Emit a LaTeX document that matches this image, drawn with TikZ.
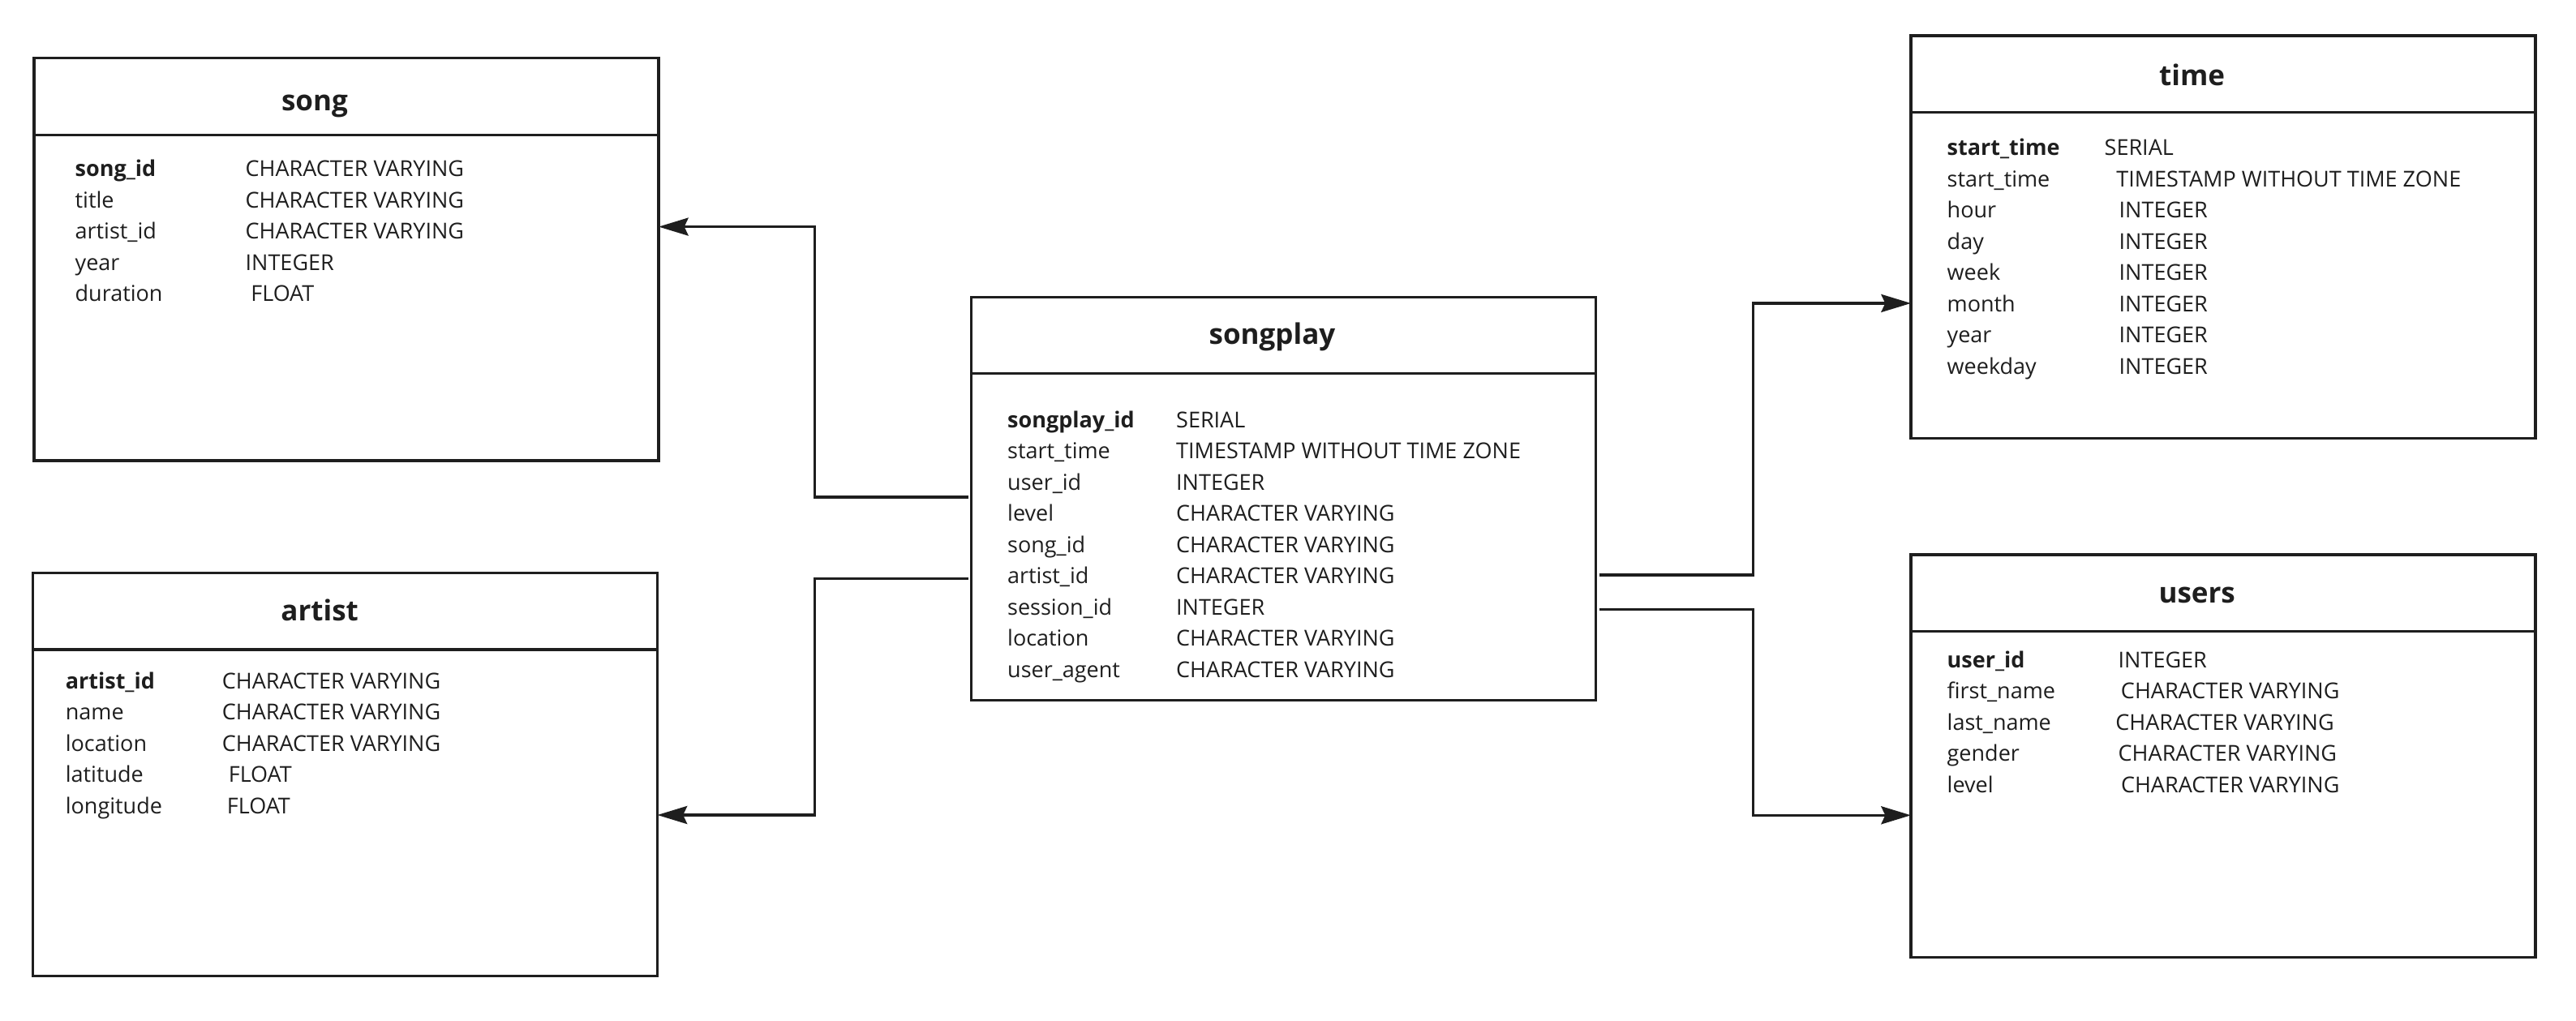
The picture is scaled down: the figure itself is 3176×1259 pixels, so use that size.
\documentclass[tikz,border=0pt]{standalone}
\usepackage{fontspec}
\setmainfont{Open Sans}
\usetikzlibrary{arrows.meta}
\definecolor{ink}{HTML}{1E1E1E}
\tikzstyle{table} = [rectangle, draw=ink, line width=1pt, outer sep=0pt,
    minimum width=231pt, minimum height=149pt]
\tikzstyle{title} = [anchor=base, inner sep=0pt, text=ink,
    font=\fontsize{10.5}{12}\selectfont\bfseries]
\tikzstyle{rows} = [anchor=base west, inner sep=0pt, text=ink,
    font=\fontsize{8.1}{11.55}\selectfont]
\tikzstyle{rule} = [draw=ink, line width=1.1pt]
\tikzstyle{line} = [draw=ink, line width=1pt, shorten <=1.2pt,
    -{Stealth[length=11pt, width=6.6pt, inset=1.5pt]}]

\begin{document}
\begin{tikzpicture}[x=0.3pt, y=-0.3pt]
  \useasboundingbox (0,0) rectangle (3176,1259);
  % Place tables
  \node [table] (songplay) at (1582.5,615) {};
  \node [table] (song) at (427,319.6) {};
  \node [table] (artist) at (425.5,955) {};
  \node [table] (time) at (2741,292.3) {};
  \node [table] (users) at (2741,932.3) {};
  % Header rules
  \path [rule] ([yshift=-28.2pt]songplay.north west) -- ([yshift=-28.2pt]songplay.north east);
  \path [rule] ([yshift=-28.6pt]song.north west) -- ([yshift=-28.6pt]song.north east);
  \path [rule] ([yshift=-28.3pt]artist.north west) -- ([yshift=-28.3pt]artist.north east);
  \path [rule] ([yshift=-28.4pt]time.north west) -- ([yshift=-28.4pt]time.north east);
  \path [rule] ([yshift=-28.4pt]users.north west) -- ([yshift=-28.4pt]users.north east);
  % Titles
  \node [title, xshift=-4.2pt, yshift=-17.4pt] (songplay-t) at (songplay.north) {songplay};
  \node [title, xshift=-11.7pt, yshift=-19.5pt] (song-t) at (song.north) {song};
  \node [title, xshift=-9.4pt, yshift=-17.7pt] (artist-t) at (artist.north) {artist};
  \node [title, xshift=-11.5pt, yshift=-18.5pt] (time-t) at (time.north) {time};
  \node [title, xshift=-9.7pt, yshift=-17.9pt] (users-t) at (users.north) {users};

  % Columns
  \node [rows] (songplay-c) at ([xshift=13.2pt, yshift=-48.2pt]songplay.north west) {%
    \begin{tabular}[t]{@{}p{62.4pt}@{}l@{}}
      \textbf{songplay\_id} & SERIAL\\
      start\_time & TIMESTAMP WITHOUT TIME ZONE\\
      user\_id & INTEGER\\
      level & CHARACTER VARYING\\
      song\_id & CHARACTER VARYING\\
      artist\_id & CHARACTER VARYING\\
      session\_id & INTEGER\\
      location & CHARACTER VARYING\\
      user\_agent & CHARACTER VARYING
    \end{tabular}};
  \node [rows] (song-c) at ([xshift=15pt, yshift=-43.9pt]song.north west) {%
    \begin{tabular}[t]{@{}p{63pt}@{}l@{}}
      \textbf{song\_id} & CHARACTER VARYING\\
      title & CHARACTER VARYING\\
      artist\_id & CHARACTER VARYING\\
      year & INTEGER\\
      duration & \hspace{2pt}FLOAT
    \end{tabular}};
  \node [rows] (artist-c) at ([xshift=11.9pt, yshift=-42.8pt]artist.north west) {%
    \begin{tabular}[t]{@{}p{57.9pt}@{}l@{}}
      \textbf{artist\_id} & CHARACTER VARYING\\
      name & CHARACTER VARYING\\
      location & CHARACTER VARYING\\
      latitude & \hspace{2.4pt}FLOAT\\
      longitude & \hspace{1.8pt}FLOAT
    \end{tabular}};
  \node [rows] (time-c) at ([xshift=13.2pt, yshift=-44.3pt]time.north west) {%
    \begin{tabular}[t]{@{}p{63.6pt}@{}l@{}}
      \textbf{start\_time} & \hspace{-5.4pt}SERIAL\\
      start\_time & \hspace{-1pt}TIMESTAMP WITHOUT TIME ZONE\\
      hour & INTEGER\\
      day & INTEGER\\
      week & INTEGER\\
      month & INTEGER\\
      year & INTEGER\\
      weekday & INTEGER
    \end{tabular}};
  \node [rows] (users-c) at ([xshift=13.2pt, yshift=-41.8pt]users.north west) {%
    \begin{tabular}[t]{@{}p{63.3pt}@{}l@{}}
      \textbf{user\_id} & INTEGER\\
      first\_name & \hspace{1pt}CHARACTER VARYING\\
      last\_name & \hspace{-1pt}CHARACTER VARYING\\
      gender & CHARACTER VARYING\\
      level & \hspace{1pt}CHARACTER VARYING
    \end{tabular}};

  % Draw edges
  \path [line] ([yshift=0.6pt]songplay.west) -- ++(-193,0) |- ([yshift=12pt]song.east);
  \path [line] ([yshift=-29.5pt]songplay.west) -- ++(-193,0) |- ([yshift=-15pt]artist.east);
  \path [line] ([yshift=-28.2pt]songplay.east) -- ++(194,0) |- ([yshift=-24.5pt]time.west);
  \path [line] ([yshift=-41pt]songplay.east) -- ++(194,0) |- ([yshift=-21.9pt]users.west);
\end{tikzpicture}
\end{document}
